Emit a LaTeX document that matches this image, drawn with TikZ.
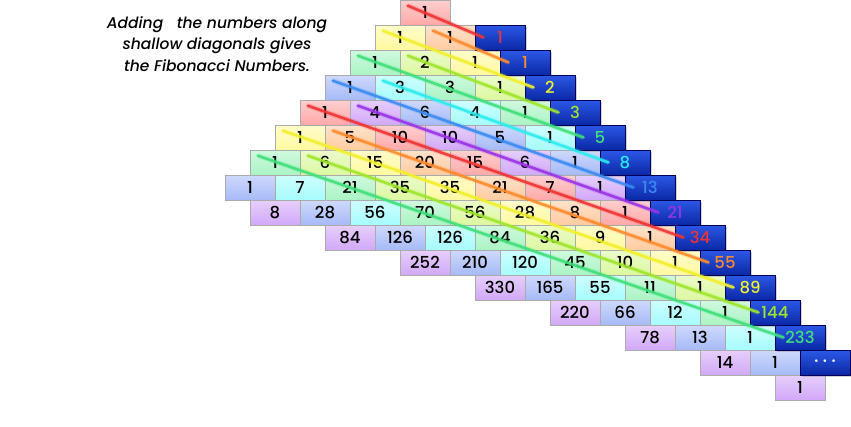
\documentclass[tikz,border=0pt]{standalone}
\usepackage{fontspec}
\setmainfont{Poppins Medium}[ItalicFont={Poppins Medium Italic}]
\usetikzlibrary{shadows,calc}

% pastel cell colours and line colours, one per diagonal (mod 8)
\definecolor{pc0}{HTML}{FFA8A8}
\definecolor{pc1}{HTML}{FFCBA0}
\definecolor{pc2}{HTML}{FFF9A0}
\definecolor{pc3}{HTML}{DCF8A0}
\definecolor{pc4}{HTML}{AAF4C4}
\definecolor{pc5}{HTML}{A6FCFC}
\definecolor{pc6}{HTML}{A6BAF8}
\definecolor{pc7}{HTML}{D2A8F8}
\definecolor{lc0}{HTML}{F03232}
\definecolor{lc1}{HTML}{FF8A2A}
\definecolor{lc2}{HTML}{F2F02A}
\definecolor{lc3}{HTML}{9EE62A}
\definecolor{lc4}{HTML}{3EE07A}
\definecolor{lc5}{HTML}{2AECEC}
\definecolor{lc6}{HTML}{3A8AF2}
\definecolor{lc7}{HTML}{9A32E8}
\definecolor{boxtop}{HTML}{2C58E6}
\definecolor{boxbot}{HTML}{0A28A6}

\begin{document}
\begin{tikzpicture}[x=1pt,y=-1pt,
  cell/.style={draw=black!33,line width=0.8pt,minimum width=50pt,minimum height=25pt,
    inner sep=0pt,top color=#1!55!white,bottom color=#1,font=\fontsize{16.5}{16}\selectfont},
  sumbox/.style={draw=blue!35!black,line width=0.8pt,minimum width=50pt,minimum height=25pt,
    inner sep=0pt,top color=boxtop,bottom color=boxbot,
    drop shadow={shadow xshift=2pt,shadow yshift=-2pt,opacity=0.35}},
  sumlabel/.style={font=\fontsize{16.5}{16}\selectfont,inner sep=0pt},
  diag/.style={draw=#1,line width=2.6pt,line cap=round,opacity=0.9,
    preaction={draw=#1,line width=5pt,opacity=0.2}},
  caption/.style={anchor=base,inner sep=0pt,font=\fontsize{15.5}{20}\selectfont\itshape}]
\useasboundingbox (0,0) rectangle (851,426);

% text:
\node[caption] (cap-1) at (217,28) {Adding\hspace{9pt} the numbers along};
\node[caption] (cap-2) at (217,49.5) {shallow diagonals gives};
\node[caption] (cap-3) at (217,71) {the Fibonacci Numbers.};

% cells of the triangle:
\foreach \row [count=\n from 0] in {{1},{1,1},{1,2,1},{1,3,3,1},{1,4,6,4,1},
  {1,5,10,10,5,1},{1,6,15,20,15,6,1},{1,7,21,35,35,21,7,1},
  {1,8,28,56,70,56,28,8,1},{1,9,36,84,126,126,84,36,9,1},
  {1,10,45,120,210,252,210,120,45,10,1},{1,11,55,165,330,462,462,330,165,55,11,1},
  {1,12,66,220,495,792,924,792,495,220,66,12,1},
  {1,13,78,286,715,1287,1716,1716,1287,715,286,78,13,1},
  {1,14,91,364,1001,2002,3003,3432,3003,2002,1001,364,91,14,1},
  {1,15,105,455,1365,3003,5005,6435,6435,5005,3003,1365,455,105,15,1}}
  \foreach \v [count=\k from 0] in \row {
    \pgfmathtruncatemacro\d{2*\n-\k}
    \pgfmathtruncatemacro\c{mod(\d,8)}
    \ifnum\d<16
      \node[cell=pc\c] (c-\n-\k) at (425-25*\n+50*\k,12.5+25*\n) {\v};
    \fi
  };

% sum boxes:
\foreach \n in {1,...,14}
  \node[sumbox] (f-\n) at (475+25*\n,12.5+25*\n) {};

% shallow diagonals:
\foreach \d in {0,...,12} {
  \pgfmathtruncatemacro\n{(\d+1)/2}
  \pgfmathtruncatemacro\k{2*\n-\d}
  \pgfmathtruncatemacro\m{\d+1}
  \pgfmathtruncatemacro\c{mod(\d,8)}
  \draw[diag=lc\c] ($(c-\n-\k.north west)+(8,6)$) -- ($(f-\m.west)+(9,0)$);
};

% Fibonacci numbers:
\foreach \f [count=\n] in {1,1,2,3,5,8,13,21,34,55,89,144,233} {
  \pgfmathtruncatemacro\c{mod(\n-1,8)}
  \node[sumlabel,text=lc\c] (s-\n) at (f-\n) {\f};
};
\node[sumlabel,text=white,font=\normalsize] (s-14) at (f-14) {\textbullet\hspace{4pt}\textbullet\hspace{4pt}\textbullet};
\end{tikzpicture}
\end{document}
